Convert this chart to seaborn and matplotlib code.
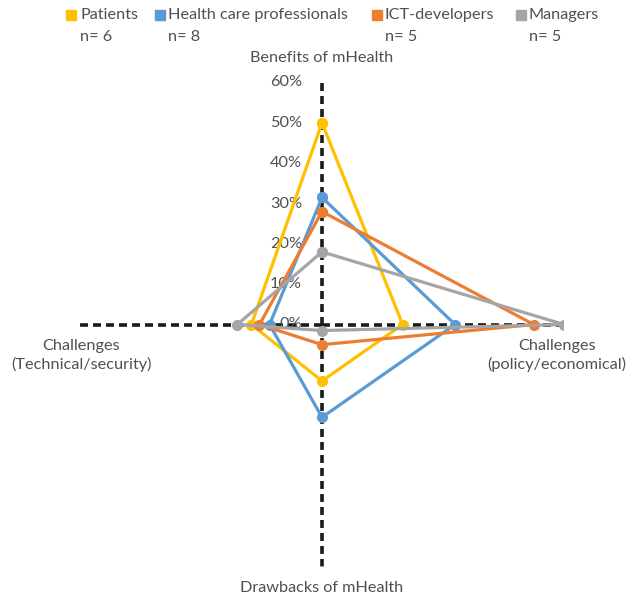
import numpy as np
import pandas as pd
import matplotlib
matplotlib.use("Agg")
import matplotlib.pyplot as plt
from matplotlib.transforms import offset_copy
from matplotlib.lines import Line2D
import seaborn as sns

# ---- data ----
categories = ["Benefits of mHealth", "Challenges\n(policy/economical)",
              "Drawbacks of mHealth", "Challenges\n(Technical/security)"]
series_names = ["Patients", "Health care professionals", "ICT-developers", "Managers"]
series_n = ["n= 6", "n= 8", "n= 5", "n= 5"]
patients = [0.50, 0.20, 0.14, 0.175]
hc_professionals = [0.315, 0.33, 0.23, 0.13]
ict_developers = [0.28, 0.525, 0.05, 0.155]
managers = [0.18, 0.60, 0.015, 0.21]
tick_values = [0.0, 0.1, 0.2, 0.3, 0.4, 0.5, 0.6]
tick_labels = ["0%", "10%", "20%", "30%", "40%", "50%", "60%"]

colors = ["#FFC000", "#5B9BD5", "#ED7D31", "#A5A5A5"]
text_color = "#505050"
FS = 11.7

sns.set_style("white")
plt.rcParams["font.family"] = ["Lato", "DejaVu Sans"]

W, H = 631, 598
fig = plt.figure(figsize=(W / 100, H / 100), dpi=100)
cx, cy, R = 322, 324.5, 242
ax = fig.add_axes([(cx - R) / W, (H - cy - R) / H, 2 * R / W, 2 * R / H], projection="polar")
ax.set_theta_zero_location("N")
ax.set_theta_direction(-1)
ax.set_ylim(0, 0.6)
ax.grid(False)
ax.spines["polar"].set_visible(False)
ax.patch.set_alpha(0)

n_cat = len(categories)
theta = np.arange(n_cat) * 2 * np.pi / n_cat

# dashed axes
for t in theta:
    ax.plot([t, t], [0, 0.605], color="#1a1a1a", lw=2.6, ls=(0, (2.2, 1.4)), zorder=1,
            solid_capstyle="butt")

# series
all_vals = [patients, hc_professionals, ict_developers, managers]
for name, vals, col in zip(series_names, all_vals, colors):
    df = pd.DataFrame({"theta": np.append(theta, theta[0] + 2 * np.pi),
                       "value": np.append(vals, vals[0])})
    sns.lineplot(data=df, x="theta", y="value", ax=ax, sort=False, estimator=None,
                 color=col, lw=2.3, marker="o", markersize=8, markeredgewidth=0,
                 legend=False, zorder=3)
ax.set_xlabel("")
ax.set_ylabel("")
ax.set_xticks([])
ax.set_yticks([])
ax.set_ylim(0, 0.6)

# radial tick labels
tr = offset_copy(ax.transData, fig=fig, x=-20, y=0, units="dots")
for v, lab in zip(tick_values, tick_labels):
    ax.text(0, v, lab, transform=tr, ha="right", va="center", fontsize=FS,
            color=text_color, zorder=2)

# category labels
offsets = [(0, 24), (-7, -31), (0, -22), (1, -31)]
for t, lab, (dx, dy) in zip(theta, categories, offsets):
    trc = offset_copy(ax.transData, fig=fig, x=dx, y=dy, units="dots")
    ax.text(t, 0.6, lab, transform=trc, ha="center", va="center", fontsize=FS,
            color=text_color, linespacing=1.4, multialignment="center", clip_on=False)

# legend (manual, two-line entries)
marker_x = [70.7, 160, 376.7, 521]
text_x = [80, 168, 385, 529]
for mx, tx, name, n, col in zip(marker_x, text_x, series_names, series_n, colors):
    fig.add_artist(Line2D([mx / W], [1 - 15 / H], marker="s", markersize=6.5,
                          color=col, transform=fig.transFigure, lw=0))
    fig.text(tx / W, 1 - 15 / H, name, ha="left", va="center", fontsize=FS, color=text_color)
    fig.text(tx / W, 1 - 37 / H, n, ha="left", va="center", fontsize=FS, color=text_color)

fig.savefig("out.png", dpi=100)
